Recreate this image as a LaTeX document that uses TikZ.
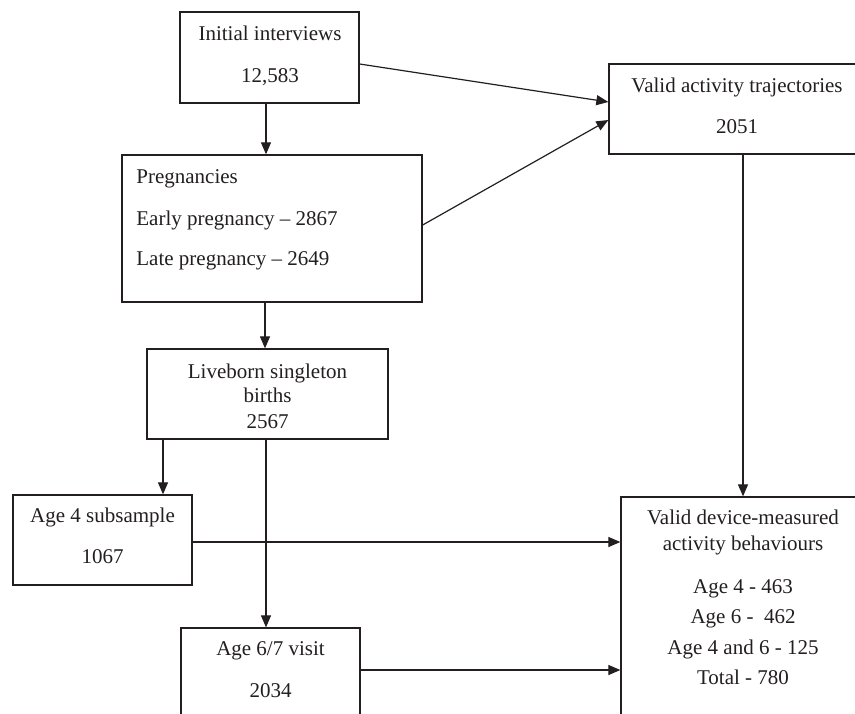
\documentclass[tikz,border=0pt]{standalone}
\usepackage{fontspec}
\setmainfont{Liberation Serif}
\usetikzlibrary{arrows.meta}
\definecolor{ink}{RGB}{35,31,32}
\begin{document}
\begin{tikzpicture}[x=0.5pt,y=-0.5pt,
  box/.style={draw=ink,line width=0.65pt,inner sep=0pt},
  txt/.style={inner sep=0pt,anchor=base,text=ink,font=\fontsize{10.5}{12}\selectfont},
  ltxt/.style={txt,anchor=base west},
  arr/.style={draw=ink,line width=0.6pt,-{Triangle[length=6pt,width=5pt]}}]
\useasboundingbox (0,0) rectangle (855,713);
\clip (0,0) rectangle (855,713);
\fill[white] (0,0) rectangle (855,713);
% boxes
\node[box,minimum width=89.5pt,minimum height=45.5pt] (init) at (269.5,57.5) {};
\node[box,minimum width=128.5pt,minimum height=45pt] (traj) at (737.5,109) {};
\node[box,minimum width=150pt,minimum height=73.5pt] (preg) at (272,228.5) {};
\node[box,minimum width=120.5pt,minimum height=45pt] (live) at (267.5,394) {};
\node[box,minimum width=89.5pt,minimum height=45pt] (age4) at (102.5,540) {};
\node[box,minimum width=89.5pt,minimum height=56pt] (age67) at (270.5,684) {};
\node[box,minimum width=122pt,minimum height=121.5pt] (dev) at (743,618.5) {};
% texts
\node[txt] (t1) at (270,40) {Initial interviews};
\node[txt] (t2) at (270,82) {12,583};
\node[txt] (t3) at (737,92) {Valid activity trajectories};
\node[txt] (t4) at (737,133) {2051};
\node[ltxt] (t5) at (136,183) {Pregnancies};
\node[ltxt] (t6) at (136,225) {Early pregnancy – 2867};
\node[ltxt] (t7) at (136,265) {Late pregnancy – 2649};
\node[txt] (t8) at (267.5,378) {Liveborn singleton};
\node[txt] (t9) at (267.5,402) {births};
\node[txt] (t10) at (267.5,428) {2567};
\node[txt] (t11) at (102.5,522) {Age 4 subsample};
\node[txt] (t12) at (102.5,563) {1067};
\node[txt] (t13) at (270.5,655) {Age 6/7 visit};
\node[txt] (t14) at (270.5,697) {2034};
\node[txt] (t15) at (743,524) {Valid device-measured};
\node[txt] (t16) at (743,550) {activity behaviours};
\node[txt] (t17) at (743,593) {Age 4 - 463};
\node[txt] (t18) at (743,623) {Age 6 -\ \ 462};
\node[txt] (t19) at (743,654) {Age 4 and 6 - 125};
\node[txt] (t20) at (743,684) {Total - 780};
% guide coordinates
\coordinate (c163) at (163,0);
\coordinate (c265) at (265,0);
\coordinate (c266) at (266,0);
\coordinate (c743) at (743,0);
\coordinate (r64) at (0,64);
\coordinate (r102) at (0,102);
\coordinate (r120) at (0,120);
\coordinate (r225) at (0,225);
\coordinate (r542) at (0,542);
\coordinate (r670) at (0,670);
% connectors
\draw[arr] (init.south -| c266) -- (preg.north -| c266);
\draw[arr] (init.east |- r64) -- (traj.west |- r102);
\draw[arr] (preg.east |- r225) -- (traj.west |- r120);
\draw[arr] (preg.south -| c265) -- (live.north -| c265);
\draw[arr] (live.south -| c163) -- (age4.north -| c163);
\draw[arr] (live.south -| c266) -- (age67.north -| c266);
\draw[arr] (traj.south -| c743) -- (dev.north -| c743);
\draw[arr] (age4.east |- r542) -- (dev.west |- r542);
\draw[arr] (age67.east |- r670) -- (dev.west |- r670);
\end{tikzpicture}
\end{document}
